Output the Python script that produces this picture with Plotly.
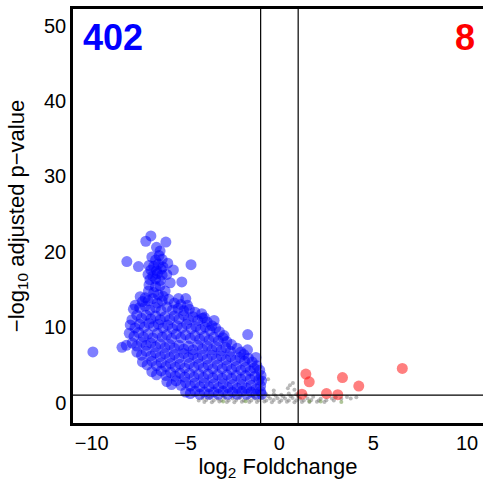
import plotly.graph_objects as go

# ---- data ----
blue_log2fc = [
    -7.12, -6.85, -6.05, -6.55, -6.36,
    -6.41, -6.8, -6.6, -6.25, -8.13, -7.51, -4.71,
    -6.95, -6.7, -6.45, -6.2, -5.95, -6.85, -6.55, -6.3, -5.65,
    -7.0, -6.75, -6.5, -6.25, -6.0, -6.9, -6.6, -6.35, -5.82, -5.2,
    -6.95, -6.6, -6.36, -6.09, -6.98, -6.7, -6.45, -6.2, -5.38, -4.99, -5.9,
    -7.15, -7.42, -7.3, -7.0, -6.75, -6.5, -6.25, -5.6, -5.25, -4.9,
    -7.69, -7.78, -7.45, -7.15, -6.9, -6.6, -6.3, -6.0, -5.7, -5.4, -5.1, -4.8, -4.5, -4.14,
    -7.86, -7.6, -7.35, -7.1, -6.85, -6.6, -6.35, -6.1, -5.85, -5.6, -5.35, -5.1, -4.85, -4.6, -4.35, -4.1, -3.85, -3.48,
    -7.95, -7.7, -7.45, -7.2, -6.95, -6.7, -6.45, -6.2, -5.95, -5.7, -5.45, -5.2, -4.95, -4.7, -4.45, -4.2, -3.95, -3.7, -3.4, -3.2,
    -8.0, -7.75, -7.5, -7.25, -7.0, -6.75, -6.5, -6.25, -6.0, -5.75, -5.5, -5.25, -5.0, -4.75, -4.5, -4.25, -4.0, -3.75, -3.5, -3.25, -3.0, -2.8, -1.69,
    -7.85, -7.6, -7.35, -7.1, -6.85, -6.6, -6.35, -6.1, -5.85, -5.6, -5.35, -5.1, -4.85, -4.6, -4.35, -4.1, -3.85, -3.6, -3.35, -3.1, -2.85, -2.6, -8.39, -8.16, -9.94,
    -7.6, -7.35, -7.1, -6.85, -6.6, -6.35, -6.1, -5.85, -5.6, -5.35, -5.1, -4.85, -4.6, -4.35, -4.1, -3.85, -3.6, -3.35, -3.1, -2.85, -2.6, -2.35, -2.1, -1.85,
    -7.3, -7.05, -6.8, -6.55, -6.3, -6.05, -5.8, -5.55, -5.3, -5.05, -4.8, -4.55, -4.3, -4.05, -3.8, -3.55, -3.3, -3.05, -2.8, -2.55, -2.3, -2.05, -1.8, -1.55, -1.35,
    -6.8, -6.55, -6.3, -6.05, -5.8, -5.55, -5.3, -5.05, -4.8, -4.55, -4.3, -4.05, -3.8, -3.55, -3.3, -3.05, -2.8, -2.55, -2.3, -2.05, -1.8, -1.55, -1.3, -1.1,
    -6.0, -5.75, -5.5, -5.25, -5.0, -4.75, -4.5, -4.25, -4.0, -3.75, -3.5, -3.25, -3.0, -2.75, -2.5, -2.25, -2.0, -1.75, -1.5, -1.25, -1.0,
    -5.0, -4.75, -4.5, -4.25, -4.0, -3.75, -3.5, -3.25, -3.0, -2.75, -2.5, -2.25, -2.0, -1.75, -1.5, -1.25, -1.0, -0.95,
    -2.55, -2.25, -2.05, -1.9, -1.65, -1.45, -1.2, -1.05, -0.98, -0.95, -2.95, -3.6, -4.0, -1.7, -1.25,
]
blue_neglog10p = [
    21.4, 22.1, 21.3, 20.6, 20.1,
    19.5, 19.3, 18.9, 19.0, 18.7, 18.05, 18.3,
    18.2, 18.1, 18.4, 18.0, 18.5, 17.6, 17.5, 17.7, 17.6,
    17.0, 16.8, 17.1, 16.9, 17.0, 16.3, 16.4, 16.2, 15.9, 16.0,
    15.6, 15.4, 15.5, 14.8, 14.8, 14.6, 14.3, 14.1, 13.8, 13.8, 13.7,
    13.9, 14.05, 13.4, 13.5, 13.8, 13.2, 13.5, 13.2, 13.0, 12.9,
    12.9, 12.4, 12.6, 12.8, 12.3, 12.6, 12.2, 12.7, 12.3, 12.5, 12.2, 12.4, 12.0, 11.8,
    11.0, 11.6, 11.2, 11.6, 11.1, 11.5, 11.0, 11.4, 11.0, 11.5, 11.1, 11.6, 11.0, 11.4, 10.9, 11.2, 10.7, 10.9,
    10.3, 9.9, 10.4, 10.0, 10.5, 10.1, 10.4, 9.9, 10.3, 9.8, 10.2, 9.9, 10.4, 9.8, 10.1, 9.7, 10.0, 9.6, 9.9, 9.4,
    9.2, 8.8, 9.3, 8.7, 9.1, 8.6, 9.2, 8.7, 9.0, 8.5, 9.1, 8.6, 9.0, 8.5, 8.9, 8.4, 8.8, 8.3, 8.7, 8.2, 8.6, 8.1, 9.03,
    7.9, 7.5, 8.0, 7.6, 7.9, 7.4, 7.8, 7.3, 7.7, 7.2, 7.6, 7.1, 7.5, 7.0, 7.6, 7.1, 7.5, 7.0, 7.4, 6.9, 7.3, 6.8, 7.33, 7.6, 6.72,
    6.7, 6.3, 6.8, 6.2, 6.6, 6.1, 6.5, 6.0, 6.4, 5.9, 6.5, 6.0, 6.4, 5.9, 6.3, 5.8, 6.3, 5.8, 6.2, 5.7, 6.1, 5.6, 6.0, 5.5,
    5.4, 5.0, 5.5, 4.9, 5.3, 4.8, 5.2, 4.7, 5.1, 4.6, 5.2, 4.7, 5.1, 4.6, 5.0, 4.5, 5.0, 4.5, 4.9, 4.4, 4.8, 4.3, 4.7, 4.2, 4.6,
    4.1, 3.7, 4.2, 3.6, 4.0, 3.5, 3.9, 3.4, 3.9, 3.4, 3.8, 3.3, 3.8, 3.3, 3.7, 3.2, 3.7, 3.2, 3.6, 3.1, 3.6, 3.1, 3.5, 3.0,
    2.8, 2.4, 2.9, 2.3, 2.7, 2.2, 2.6, 2.1, 2.6, 2.1, 2.5, 2.0, 2.5, 2.0, 2.4, 1.9, 2.4, 1.9, 2.3, 1.8, 2.2,
    1.4, 1.2, 1.5, 1.1, 1.4, 1.1, 1.4, 1.1, 1.5, 1.1, 1.4, 1.1, 1.5, 1.1, 1.4, 1.1, 1.5, 1.1,
    7.7, 7.2, 6.7, 6.4, 5.9, 5.4, 4.9, 4.3, 3.6, 2.9, 8.9, 10.2, 11.3, 7.0, 6.0,
]

red_log2fc = [1.41, 1.59, 3.36, 4.23, 6.55, 1.20, 2.51, 3.11]
red_neglog10p = [3.79, 2.76, 3.33, 2.19, 4.53, 1.12, 1.20, 1.05]

grey_log2fc = [
    -4.0, -3.6, -3.2, -2.8, -2.4, -2.0, -1.6, -1.2, -0.8, -0.4, 0.0, 0.4, 0.8, 1.2, 1.6, 2.0, 2.4,
    -4.3, -3.9, -3.5, -3.1, -2.7, -2.3, -1.9, -1.5, -1.1, -0.7, -0.3, 0.1, 0.5, 0.9, 1.3, 1.7, 2.1, 2.5, 2.9,
    -4.1, -3.7, -3.3, -2.9, -2.5, -2.1, -1.7, -1.3, -0.9, -0.5, -0.1, 0.3, 0.7, 1.1, 1.5, 2.2, 2.8, 3.3, 3.8,
    -3.8, -3.0, -2.2, -1.4, -0.6, -0.2, 0.2, 0.6, 1.0, 1.8, 3.0, 3.6, 4.1,
    -0.7, -0.3, 0.1, 0.5, 0.9, 1.4,
    -0.6, 0.56, 0.72, 0.45, 0.8, -0.3,
]
grey_neglog10p = [
    0.1, 0.05, 0.15, 0.1, 0.05, 0.12, 0.08, 0.1, 0.14, 0.06, 0.1, 0.12, 0.05, 0.1, 0.08, 0.12, 0.1,
    0.3, 0.35, 0.28, 0.32, 0.3, 0.36, 0.3, 0.27, 0.33, 0.3, 0.35, 0.3, 0.28, 0.32, 0.3, 0.35, 0.3, 0.33, 0.3,
    0.55, 0.6, 0.52, 0.58, 0.55, 0.6, 0.5, 0.56, 0.6, 0.54, 0.58, 0.55, 0.6, 0.52, 0.56, 0.5, 0.55, 0.5, 0.55,
    0.8, 0.85, 0.78, 0.82, 0.85, 0.9, 0.8, 0.85, 0.8, 0.78, 0.7, 0.75, 0.7,
    1.1, 1.15, 1.05, 1.2, 1.1, 1.0,
    3.1, 2.3, 2.6, 1.9, 1.7, 1.6,
]

green_log2fc = [3.3, 2.2, 1.6, -1.8, -3.0]
green_neglog10p = [0.1, 0.15, 0.2, 0.2, 0.15]

n_down = 402
n_up = 8
fc_cut = 1
p_cut = 1

xticks = [-10, -5, 0, 5, 10]
yticks = [0, 10, 20, 30, 40, 50]

font_family = "Liberation Sans, Arial, Helvetica, sans-serif"

fig = go.Figure()
fig.add_trace(go.Scatter(x=grey_log2fc, y=grey_neglog10p, mode="markers",
                         marker=dict(size=4, color="rgba(128,128,128,0.55)", line=dict(width=0)),
                         hoverinfo="skip"))
fig.add_trace(go.Scatter(x=green_log2fc, y=green_neglog10p, mode="markers",
                         marker=dict(size=4, color="rgba(110,150,70,0.55)", line=dict(width=0)),
                         hoverinfo="skip"))
fig.add_trace(go.Scatter(x=blue_log2fc, y=blue_neglog10p, mode="markers",
                         marker=dict(size=11, color="rgba(0,0,255,0.5)", line=dict(width=0))))
fig.add_trace(go.Scatter(x=red_log2fc, y=red_neglog10p, mode="markers",
                         marker=dict(size=11, color="rgba(255,0,0,0.5)", line=dict(width=0))))

for xv in (-fc_cut, fc_cut):
    fig.add_shape(type="line", xref="x", yref="paper", x0=xv, x1=xv, y0=0, y1=1,
                  line=dict(color="black", width=1.2))
fig.add_shape(type="line", xref="paper", yref="y", x0=0, x1=1, y0=p_cut, y1=p_cut,
              line=dict(color="black", width=1.2))

fig.add_annotation(x=0.02, y=0.985, xref="paper", yref="paper", xanchor="left", yanchor="top",
                   text="<b>%d</b>" % n_down, showarrow=False,
                   font=dict(size=36, color="#0000FF", family=font_family))
fig.add_annotation(x=0.985, y=0.985, xref="paper", yref="paper", xanchor="right", yanchor="top",
                   text="<b>%d</b>" % n_up, showarrow=False,
                   font=dict(size=36, color="#FF0000", family=font_family))

fig.update_layout(
    width=483, height=486,
    margin=dict(l=73, r=0, t=9, b=63),
    paper_bgcolor="white", plot_bgcolor="white",
    showlegend=False,
    font=dict(family=font_family, color="black"),
    xaxis=dict(range=[-11, 10.85], tickvals=xticks, ticktext=["\u2212" + str(-t) if t < 0 else str(t) for t in xticks],
               showgrid=False, zeroline=False, showline=True, linecolor="black", linewidth=2.5,
               mirror=True, ticks="", tickfont=dict(size=20), ticklabeloverflow="allow",
               title=dict(text="log<sub>2</sub> Foldchange", font=dict(size=22), standoff=6)),
    yaxis=dict(range=[-2.7, 52.2], tickvals=yticks, showgrid=False, zeroline=False,
               showline=True, linecolor="black", linewidth=2.5, mirror=False, ticks="",
               tickfont=dict(size=20),
               title=dict(text="\u2212log<sub>10</sub> adjusted p\u2212value", font=dict(size=22), standoff=14)),
)

# remove the page's default body margin and scrollbars so the figure fills the window
fig.write_html("out.html",
               config={"displayModeBar": False},
               post_script="document.body.style.margin='0';document.body.style.overflow='hidden';"
                           "document.documentElement.style.overflow='hidden';")
